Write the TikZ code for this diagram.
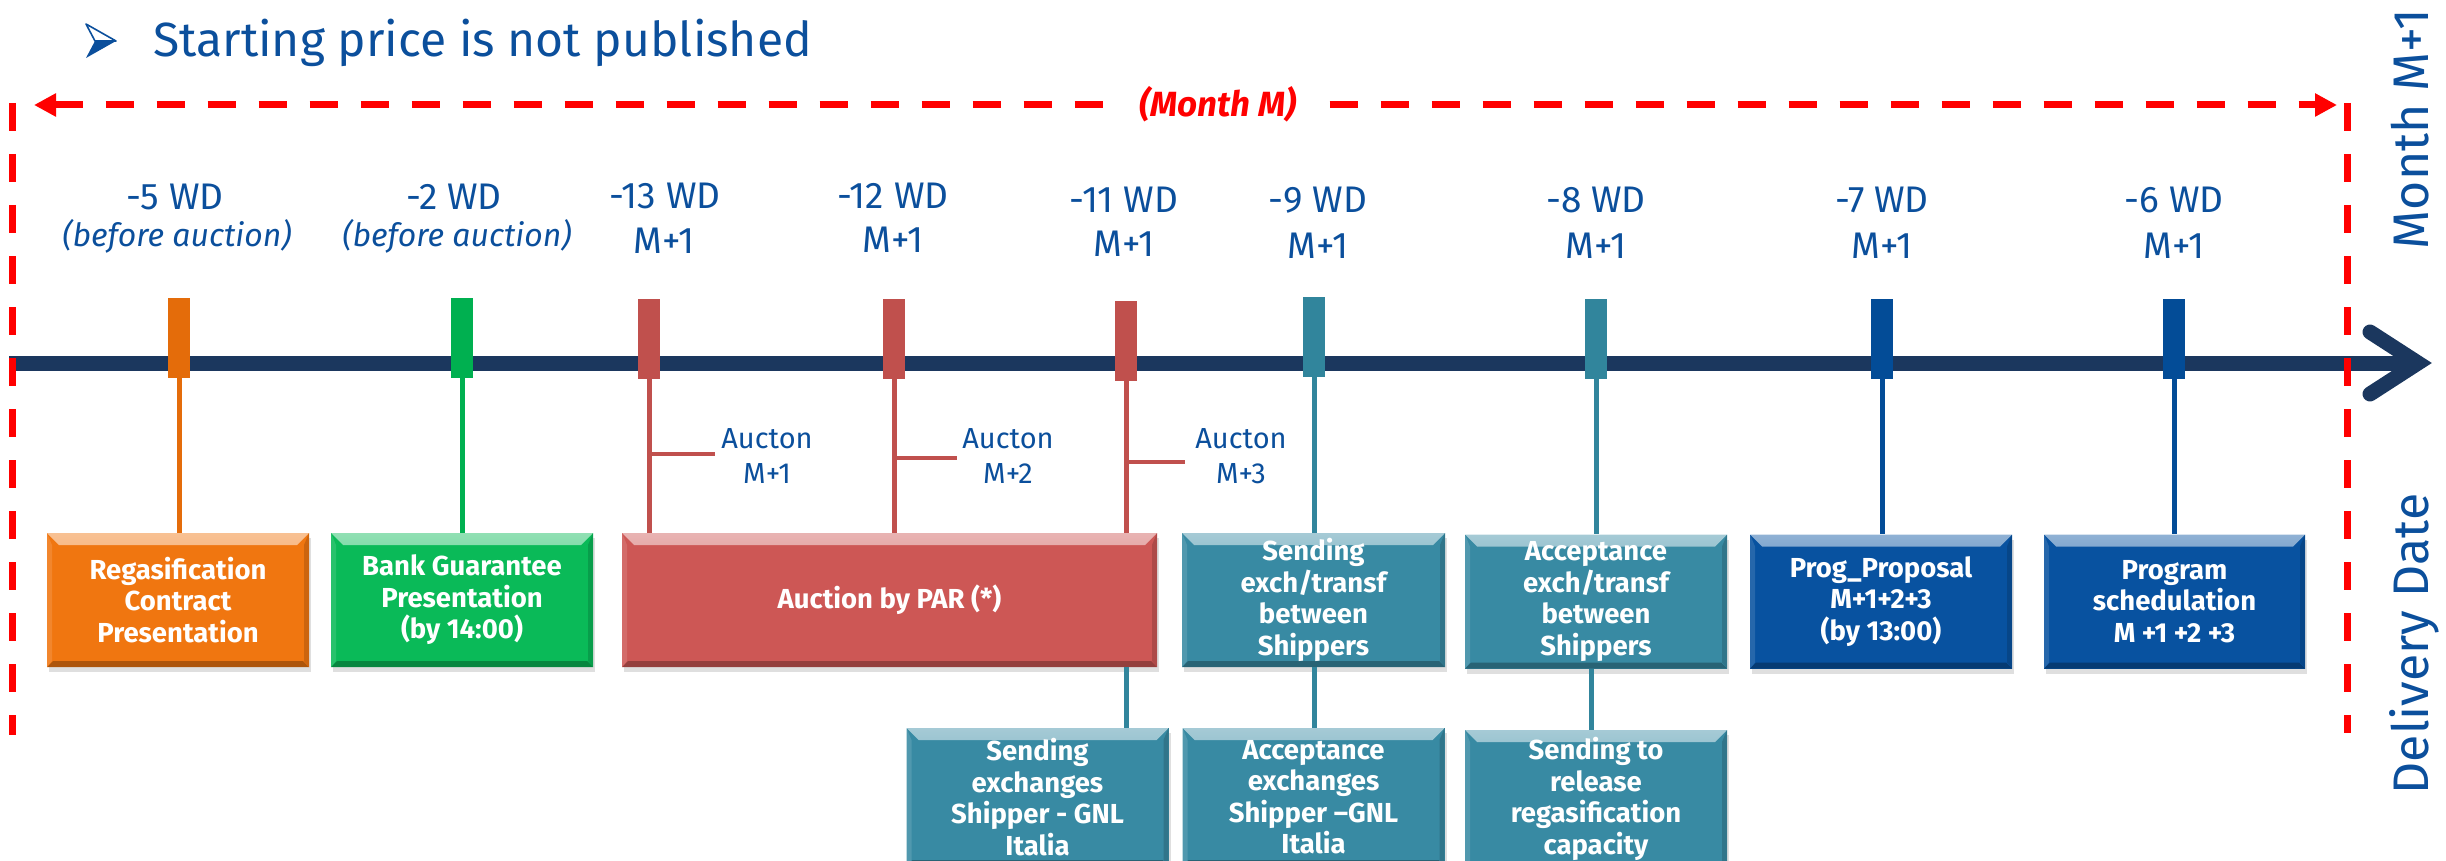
\documentclass[tikz,border=0pt]{standalone}
\usepackage{fontspec}
\setmainfont{Fira Sans}
\usetikzlibrary{arrows.meta,shadows,calc}
\definecolor{navy}{RGB}{27,55,94}
\definecolor{tblue}{RGB}{11,79,156}
\definecolor{frameRed}{RGB}{255,0,0}
\definecolor{orangeM}{RGB}{228,108,10}
\definecolor{orangeB}{RGB}{240,118,16}
\definecolor{greenM}{RGB}{0,176,80}
\definecolor{greenB}{RGB}{10,186,88}
\definecolor{redM}{RGB}{192,80,77}
\definecolor{redB}{RGB}{205,87,85}
\definecolor{tealM}{RGB}{49,133,156}
\definecolor{tealB}{RGB}{56,138,163}
\definecolor{blueM}{RGB}{3,76,151}
\definecolor{blueB}{RGB}{8,82,160}
\newcommand\bxfont{\fontsize{27.5}{31.5}\selectfont\bfseries}
\tikzset{
  mk/.style={fill=#1, draw=none, minimum width=22pt, minimum height=80pt, inner sep=0pt},
  stem/.style={draw=#1, line width=5pt},
  frame/.style={draw=frameRed, line width=7pt, dash pattern=on 28pt off 23pt},
  bx/.style={fill=#1, text=white, font=\bxfont, align=center, inner sep=0pt,
    minimum width=262pt, minimum height=134pt,
    drop shadow={shadow xshift=2pt, shadow yshift=-5pt, opacity=0.25},
    path picture={
      \shade[top color=#1!45!white, bottom color=#1]
        (path picture bounding box.north west) -- (path picture bounding box.north east)
        -- ([xshift=-12pt,yshift=-12pt]path picture bounding box.north east)
        -- ([xshift=12pt,yshift=-12pt]path picture bounding box.north west) -- cycle;
      \fill[#1!72!black]
        (path picture bounding box.south west) -- (path picture bounding box.south east)
        -- ([xshift=-6pt,yshift=6pt]path picture bounding box.south east)
        -- ([xshift=6pt,yshift=6pt]path picture bounding box.south west) -- cycle;
      \fill[#1!88!white]
        (path picture bounding box.north west) -- ([xshift=5pt,yshift=-12pt]path picture bounding box.north west)
        -- ([xshift=5pt,yshift=6pt]path picture bounding box.south west)
        -- (path picture bounding box.south west) -- cycle;
      \fill[#1!85!black]
        (path picture bounding box.north east) -- ([xshift=-5pt,yshift=-12pt]path picture bounding box.north east)
        -- ([xshift=-5pt,yshift=6pt]path picture bounding box.south east)
        -- (path picture bounding box.south east) -- cycle;
    }},
  wd/.style={text=tblue, font=\fontsize{37}{44}\selectfont, anchor=base, inner sep=0pt},
  wdi/.style={text=tblue, font=\fontsize{32}{38}\selectfont\itshape, anchor=base, inner sep=0pt},
  auc/.style={text=tblue, font=\fontsize{29}{34}\selectfont, anchor=base, inner sep=0pt},
  rot/.style={rotate=90, anchor=base, text=tblue, font=\fontsize{50}{60}\selectfont, inner sep=0pt},
}
\begin{document}
\begin{tikzpicture}[x=1pt,y=-1pt]
\useasboundingbox (0,0) rectangle (2446,861);

% heading bullet (3D arrowhead) and text
\coordinate (bt) at (86,24);
\coordinate (btip) at (116,41);
\coordinate (bb) at (86,58);
\coordinate (bn) at (95,41);
\fill[tblue] (bn) -- (btip) -- (bb) -- cycle;
\draw[tblue, line width=1.6pt, fill=white, line join=round] (bt) -- (btip) -- (bn) -- cycle;
\node[anchor=base west, text=tblue, font=\fontsize{48}{55}\selectfont, inner sep=0pt] (sp) at (153,57) {Starting price is not published};

% timeline
\coordinate (t0) at (9,363);
\coordinate (t1) at (2418,363);
\coordinate (c1) at (2370,332);
\coordinate (c2) at (2370,394);
\draw[navy, line width=15pt] (t0) -- (t1);
\draw[navy, line width=15pt, line cap=round, line join=miter] (c1) -- (t1) -- (c2);

% red frame
\coordinate (fl1) at (12,103); \coordinate (fl2) at (12,735);
\coordinate (fr1) at (2347,103); \coordinate (fr2) at (2347,733);
\coordinate (ha) at (34,105); \coordinate (hb) at (2337,105);
\draw[frame] (fl1) -- (fl2);
\draw[frame] (fr1) -- (fr2);
\draw[frame, {Triangle[length=22pt,width=22pt]}-{Triangle[length=22pt,width=22pt]}] (ha) -- (hb);
\node[fill=white, text=frameRed, font=\fontsize{35}{40}\selectfont\bfseries\itshape, inner xsep=24pt, inner ysep=2pt] (mm) at (1218,104) {(Month M)};

% markers
\node[mk=orangeM] (m1) at (179,338) {};
\node[mk=greenM] (m2) at (462,338) {};
\node[mk=redM] (m3) at (649,339) {};
\node[mk=redM] (m4) at (894,339) {};
\node[mk=redM] (m5) at (1126,341) {};
\node[mk=tealM] (m6) at (1314,337) {};
\node[mk=tealM] (m7) at (1596,339) {};
\node[mk=blueM] (m8) at (1882,339) {};
\node[mk=blueM] (m9) at (2174,339) {};

% boxes
\node[bx=orangeB] (reg) at (178,600) {Regasification\\Contract\\Presentation};
\node[bx=greenB] (bank) at (462,600) {Bank Guarantee\\Presentation\\(by 14:00)};
\node[bx=redB, minimum width=535pt] (auc) at (889.5,600) {Auction by PAR (*)};
\node[bx=tealB, minimum width=263pt] (sendx) at (1313.5,600) {Sending\\exch/transf\\between\\Shippers};
\node[bx=tealB] (accx) at (1596,601.5) {Acceptance\\exch/transf\\between\\Shippers};
\node[bx=blueB] (prog) at (1881,601.5) {Prog\_Proposal\\M+1+2+3\\(by 13:00)};
\node[bx=blueB, minimum width=261pt] (sched) at (2174.5,601.5) {Program\\schedulation\\M +1 +2 +3};
\node[bx=tealB, minimum height=138pt] (sendex) at (1037.5,797) {Sending\\exchanges\\Shipper - GNL\\Italia};
\node[bx=tealB, minimum height=138pt] (accex) at (1313.5,797) {Acceptance\\exchanges\\Shipper –GNL\\Italia};
\node[bx=tealB, minimum height=138pt] (sendrel) at (1596,799) {Sending to\\release\\regasification\\capacity};

% stems
\draw[stem=orangeM] (m1.south) -- (m1.south |- reg.north);
\draw[stem=greenM] (m2.south) -- (m2.south |- bank.north);
\draw[stem=redM] (m3.south) -- (m3.south |- auc.north);
\draw[stem=redM] (m4.south) -- (m4.south |- auc.north);
\draw[stem=redM] (m5.south) -- (m5.south |- auc.north);
\draw[stem=tealM] (m6.south) -- (m6.south |- sendx.north);
\draw[stem=tealM] (m7.south) -- (m7.south |- accx.north);
\draw[stem=blueM] (m8.south) -- (m8.south |- prog.north);
\draw[stem=blueM] (m9.south) -- (m9.south |- sched.north);
\draw[stem=tealM] (m5.south |- auc.south) -- (m5.south |- sendex.north);
\draw[stem=tealM] (m6.south |- sendx.south) -- (m6.south |- accex.north);
\draw[stem=tealM] ([xshift=-5pt]sendrel.north |- accx.south) -- ([xshift=-5pt]sendrel.north);

% auction branches
\coordinate (b1) at (715,454);
\coordinate (b2) at (957,458);
\coordinate (b3) at (1185,462);
\draw[redM, line width=4.5pt] (b1 -| m3) -- (b1);
\draw[redM, line width=4.5pt] (b2 -| m4) -- (b2);
\draw[redM, line width=4.5pt] (b3 -| m5) -- (b3);
\node[auc] (a1) at (767,448) {Aucton};
\node[auc] (a1m) at (767,483) {M+1};
\node[auc] (a2) at (1008,448) {Aucton};
\node[auc] (a2m) at (1008,483) {M+2};
\node[auc] (a3) at (1241,448) {Aucton};
\node[auc] (a3m) at (1241,483) {M+3};

% WD labels
\node[wd] (w1a) at (175,210) {-5 WD};
\node[wdi] (w1b) at (177,247) {(before auction)};
\node[wd] (w2a) at (454,210) {-2 WD};
\node[wdi] (w2b) at (457,247) {(before auction)};
\node[wd] (w3a) at (665,208) {-13 WD};
\node[wd] (w3b) at (664,253) {M+1};
\node[wd] (w4a) at (893,208) {-12 WD};
\node[wd] (w4b) at (893,252) {M+1};
\node[wd] (w5a) at (1124,212) {-11 WD};
\node[wd] (w5b) at (1124,256) {M+1};
\node[wd] (w6a) at (1318,213) {-9 WD};
\node[wd] (w6b) at (1318,258) {M+1};
\node[wd] (w7a) at (1596,213) {-8 WD};
\node[wd] (w7b) at (1596,258) {M+1};
\node[wd] (w8a) at (1882,213) {-7 WD};
\node[wd] (w8b) at (1882,258) {M+1};
\node[wd] (w9a) at (2174,213) {-6 WD};
\node[wd] (w9b) at (2174,258) {M+1};

% side labels
\node[rot] (mon) at (2428,129) {Month M+1};
\node[rot] (del) at (2428,644) {Delivery Date};
\end{tikzpicture}
\end{document}
